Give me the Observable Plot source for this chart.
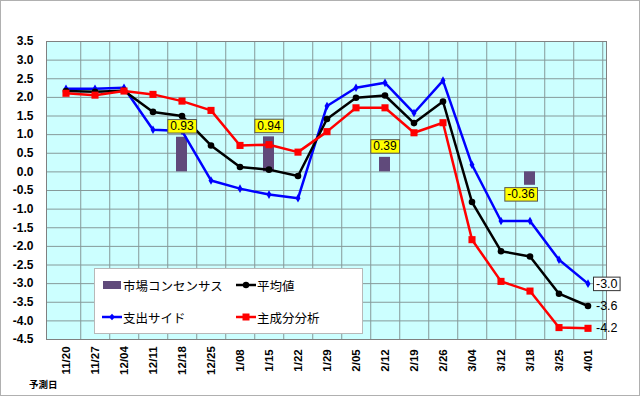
<!DOCTYPE html>
<html>
<head>
<meta charset="utf-8">
<script src="https://cdn.jsdelivr.net/npm/d3@7"></script>
<script src="https://cdn.jsdelivr.net/npm/@observablehq/plot@0.6"></script>
<style>
  html, body { margin: 0; padding: 0; background: #fff; }
  #wrap { position: relative; width: 640px; height: 396px; overflow: hidden; font-family: "Liberation Sans", Arial, sans-serif; }
  #border { position: absolute; left: 0; top: 0; width: 640px; height: 396px; box-sizing: border-box; border: 1px solid #b0b0b0; pointer-events: none; }
  #legend { position: absolute; left: 94px; top: 268px; width: 269px; height: 66px; box-sizing: border-box; background: #fff; border: 1px solid #b8b8b8; font-family: "Noto Sans CJK JP", sans-serif; font-size: 12.5px; color: #000; }
  .item { position: absolute; display: flex; align-items: center; height: 16px; white-space: nowrap; }
  .item svg { margin-right: 1px; }
  #xlab { position: absolute; left: 29px; top: 377px; font-family: "Noto Sans CJK JP", sans-serif; font-weight: bold; font-size: 9.5px; color: #000; }
</style>
</head>
<body>
<div id="wrap">
  <div id="chart"></div>
  <div id="legend"></div>
  <div id="xlab">予測日</div>
  <div id="border"></div>
</div>
<script>
// ---- data ----
const dates = ["11/20","11/27","12/04","12/11","12/18","12/25","1/08","1/15","1/22","1/29","2/05","2/12","2/19","2/26","3/04","3/12","3/18","3/25","4/01"];
const spendingSide = [2.23,2.23,2.26,1.13,1.10,-0.23,-0.45,-0.61,-0.71,1.77,2.26,2.39,1.58,2.45,0.19,-1.32,-1.32,-2.36,-3.0];
const averageValue = [2.17,2.15,2.18,1.61,1.50,0.71,0.13,0.06,-0.11,1.42,1.99,2.05,1.31,1.89,-0.81,-2.13,-2.27,-3.27,-3.6];
const pcaValue = [2.11,2.06,2.17,2.08,1.90,1.65,0.71,0.73,0.53,1.08,1.72,1.72,1.05,1.32,-1.82,-2.94,-3.20,-4.18,-4.2];
const consensusDates = ["12/18","1/15","2/12","3/18"];
const consensusValues = [0.93,0.94,0.39,-0.36];
const yTicks = [-4.5,-4.0,-3.5,-3.0,-2.5,-2.0,-1.5,-1.0,-0.5,0.0,0.5,1.0,1.5,2.0,2.5,3.0,3.5];
const seriesNames = ["市場コンセンサス","平均値","支出サイド","主成分分析"];

// ---- build tables ----
const toRows = (vals) => dates.map((d, i) => ({date: d, value: vals[i]}));
const blue = toRows(spendingSide);
const black = toRows(averageValue);
const red = toRows(pcaValue);
const cons = consensusDates.map((d, i) => ({date: d, value: consensusValues[i]}));
const consPos = cons.filter(d => d.value >= 0);
const consNeg = cons.filter(d => d.value < 0);
const last = dates.length - 1;
const endBoxed = [{date: dates[last], value: spendingSide[last]}];
const endPlain = [{date: dates[last], value: averageValue[last]}, {date: dates[last], value: pcaValue[last]}];

const W = 640, H = 396, mL = 46, mR = 34, mT = 41, mB = 57;
const bw = (W - mL - mR) / dates.length;

const C_BLUE = "#0000ff", C_BLACK = "#000000", C_RED = "#ff0000", C_BAR = "#604a7b";
const fmt2 = d => d.value.toFixed(2);
const fmt1 = d => d.value.toFixed(1);

const chart = Plot.plot({
  width: W, height: H,
  marginLeft: mL, marginRight: mR, marginTop: mT, marginBottom: mB,
  style: {fontFamily: "'Liberation Sans', Arial, sans-serif", background: "transparent", color: "#000"},
  x: {type: "band", domain: dates, padding: 0, label: null},
  y: {domain: [-4.5, 3.5], label: null},
  marks: [
    Plot.frame({fill: "#ccffff", stroke: "none"}),
    Plot.gridY(yTicks, {stroke: "#869a9a", strokeOpacity: 1, strokeWidth: 1}),
    Plot.gridX(dates, {stroke: "#869a9a", strokeOpacity: 1, strokeWidth: 1, dx: bw / 2}),
    Plot.barY(cons, {x: "date", y: "value", fill: C_BAR, insetLeft: 9, insetRight: 9}),
    Plot.line(blue, {x: "date", y: "value", stroke: C_BLUE, strokeWidth: 2.5}),
    Plot.dot(blue, {x: "date", y: "value", symbol: "diamond", r: 2.6, fill: C_BLUE, stroke: "none"}),
    Plot.line(black, {x: "date", y: "value", stroke: C_BLACK, strokeWidth: 2.5}),
    Plot.dot(black, {x: "date", y: "value", symbol: "circle", r: 3.3, fill: C_BLACK, stroke: "none"}),
    Plot.line(red, {x: "date", y: "value", stroke: C_RED, strokeWidth: 2.5}),
    Plot.dot(red, {x: "date", y: "value", symbol: "square", r: 4, fill: C_RED, stroke: "none"}),
    Plot.frame({stroke: "#808080"}),
    Plot.text(consPos, {x: "date", y: "value", text: fmt2, dy: -11, fontSize: 12, fill: "#000"}),
    Plot.text(consNeg, {x: "date", y: "value", text: fmt2, dy: 9, dx: -9, fontSize: 12, fill: "#000"}),
    Plot.text(endBoxed, {x: "date", y: "value", text: fmt1, textAnchor: "start", dx: 8, fontSize: 12.5, fill: "#000"}),
    Plot.text(endPlain, {x: "date", y: "value", text: fmt1, textAnchor: "start", dx: 8, fontSize: 12.5, fill: "#000"}),
    Plot.axisY(yTicks, {tickFormat: d => d.toFixed(1), tickSize: 0, tickPadding: 13, fontWeight: "bold", fontSize: 12, fill: "#000"}),
    Plot.axisX(dates, {tickRotate: -90, tickSize: 0, tickPadding: 21, textAnchor: "middle", fontWeight: "bold", fontSize: 11.5, fill: "#000", label: null})
  ]
});
document.getElementById("chart").appendChild(chart);

// boxes behind labels, matched by their text
const yellowTexts = new Set(cons.map(fmt2));
const whiteTexts = new Set(endBoxed.map(fmt1));
chart.querySelectorAll("text").forEach(t => {
  const s = t.textContent;
  let fill = null, stroke = null;
  if (yellowTexts.has(s)) { fill = "#ffff00"; stroke = "#555"; }
  else if (whiteTexts.has(s) && t.closest("g[aria-label='y-axis tick label']") === null) { fill = "#ffffff"; stroke = "#333"; }
  if (!fill) return;
  const bb = t.getBBox();
  const r = document.createElementNS("http://www.w3.org/2000/svg", "rect");
  r.setAttribute("x", bb.x - 2.5);
  r.setAttribute("y", bb.y + 0.5);
  r.setAttribute("width", bb.width + 5);
  r.setAttribute("height", bb.height - 0.5);
  r.setAttribute("fill", fill);
  r.setAttribute("stroke", stroke);
  r.setAttribute("stroke-width", 1);
  const tr = t.getAttribute("transform");
  if (tr) r.setAttribute("transform", tr);
  t.parentNode.insertBefore(r, t);
});

// legend
const legend = document.getElementById("legend");
const sym = {
  bar: `<svg width="19" height="8"><rect x="0" y="0" width="18" height="8" fill="${C_BAR}"/></svg>`,
  black: `<svg width="20" height="8"><line x1="0" x2="20" y1="4" y2="4" stroke="${C_BLACK}" stroke-width="2.5"/><circle cx="10" cy="4" r="3.2" fill="${C_BLACK}"/></svg>`,
  blue: `<svg width="20" height="8"><line x1="0" x2="20" y1="4" y2="4" stroke="${C_BLUE}" stroke-width="2.5"/><path d="M10,0.8L13,4L10,7.2L7,4Z" fill="${C_BLUE}"/></svg>`,
  red: `<svg width="20" height="8"><line x1="0" x2="20" y1="4" y2="4" stroke="${C_RED}" stroke-width="2.5"/><rect x="6.5" y="0.5" width="7" height="7" fill="${C_RED}"/></svg>`
};
const items = [
  {s: sym.bar, name: seriesNames[0], left: 8, top: 8},
  {s: sym.black, name: seriesNames[1], left: 141, top: 8},
  {s: sym.blue, name: seriesNames[2], left: 7, top: 40},
  {s: sym.red, name: seriesNames[3], left: 141, top: 40}
];
items.forEach(it => {
  const d = document.createElement("div");
  d.className = "item";
  d.style.left = it.left + "px";
  d.style.top = it.top + "px";
  d.innerHTML = it.s + `<span>${it.name}</span>`;
  legend.appendChild(d);
});
</script>
</body>
</html>
